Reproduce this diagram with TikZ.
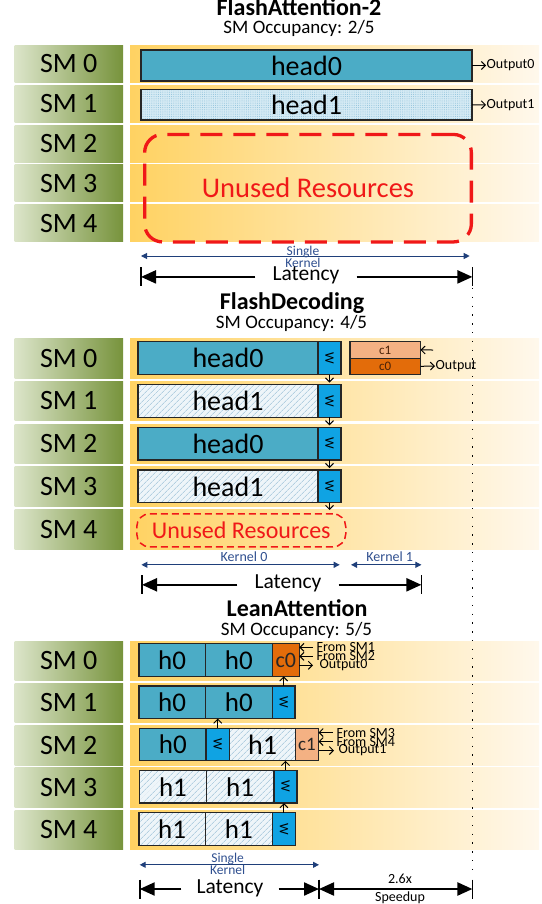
\documentclass[tikz,border=0pt]{standalone}
\usepackage{fontspec}
\setmainfont{Carlito}
\usetikzlibrary{arrows.meta,patterns.meta}
\definecolor{smL}{HTML}{DCE5CA}
\definecolor{smR}{HTML}{77933C}
\definecolor{bgL}{HTML}{FFD262}
\definecolor{bgR}{HTML}{FFF8EC}
\definecolor{tealC}{HTML}{4BACC6}
\definecolor{wC}{HTML}{0FA3E3}
\definecolor{cDark}{HTML}{E36C0A}
\definecolor{cLight}{HTML}{F4B183}
\definecolor{redC}{HTML}{F01818}
\definecolor{navy}{HTML}{1F3F7A}
\definecolor{navyT}{HTML}{2F4F8F}
\definecolor{hatchBg}{HTML}{EEF5F9}
\definecolor{hatchC}{HTML}{93BCD4}
\definecolor{dotBg}{HTML}{D5EAF4}
\definecolor{dotC}{HTML}{8CC0DA}
\definecolor{ctext}{HTML}{4A2208}
\newcommand\fsz[1]{\fontsize{#1}{#1}\selectfont}
\newcommand\bx[7]{\node[#6,anchor=north west,minimum width={(#4)-(#2)},minimum height={(#5)-(#3)}] (#1) at (#2,#3) {#7};}
\newcommand\smrow[4]{\path[rowbg] (130,#3) rectangle ++(409,#4);\node[smlab,anchor=north west,minimum height=#4] (#1) at (14.5,#3) {#2};}
\newcommand\Wt{\rotatebox{-90}{W}}
\tikzset{
 smlab/.style={rectangle,inner sep=0pt,outer sep=0pt,left color=smL,right color=smR,minimum width=108.5,font=\fsz{28}},
 rowbg/.style={left color=bgL,right color=bgR},
 blk/.style={draw=black!85,line width=1.3pt,inner sep=0pt,outer sep=0pt},
 tealbox/.style={blk,fill=tealC,font=\fsz{28}},
 hatchbox/.style={blk,preaction={fill=hatchBg},pattern={Lines[angle=45,distance=4pt,line width=0.6pt]},pattern color=hatchC,font=\fsz{28}},
 dotbox/.style={blk,preaction={fill=dotBg},pattern={Dots[distance=2.2pt,radius=0.5pt]},pattern color=dotC,font=\fsz{28}},
 wbox/.style={blk,fill=wC,font=\fsz{13}},
 cdark/.style={blk,fill=cDark,text=ctext},
 clight/.style={blk,fill=cLight,text=ctext},
 titlef/.style={font=\bfseries\fsz{24},inner sep=0pt},
 subf/.style={font=\fsz{19},inner sep=0pt},
 smalltxt/.style={font=\fsz{14},inner sep=0.5pt},
 navytxt/.style={font=\fsz{13.5},text=navyT,inner sep=0pt,align=center},
 oarr/.style={line width=1pt,-{Straight Barb[length=4pt,width=8pt]}},
 latarr/.style={line width=2.2pt,-{Triangle[length=15pt,width=13pt]}},
 latbar/.style={line width=1.8pt},
 navyarr/.style={draw=navy,line width=1pt,{Triangle[length=6pt,width=6pt]}-{Triangle[length=6pt,width=6pt]}},
 lattxt/.style={font=\fsz{21.5},inner sep=0pt},
 dotline/.style={line width=1.3pt,dash pattern=on 1.3pt off 7.5pt},
}
\begin{document}
\begin{tikzpicture}[x=1pt,y=-1pt]
\useasboundingbox (0,0) rectangle (541,904);

%% ================= FlashAttention-2 =================
\node[titlef,anchor=base] (t1) at (299,15.5) {FlashAttention-2};
\node[subf,anchor=base] (s1) at (299,33.5) {SM Occupancy: 2/5};
\smrow{a0}{SM 0}{45.5}{37}
\smrow{a1}{SM 1}{85.3}{37}
\smrow{a2}{SM 2}{125.1}{37}
\smrow{a3}{SM 3}{164.9}{37}
\smrow{a4}{SM 4}{204.7}{37}
\bx{fa0}{141}{50}{472}{81}{tealbox}{head0}
\bx{fa1}{141}{89.5}{472}{120}{dotbox}{head1}
\node[smalltxt,anchor=west] (o0) at (486,65.5) {Output0};
\node[smalltxt,anchor=west] (o1) at (486,104.8) {Output1};
\draw[oarr] (fa0.east) -- (o0.west);
\draw[oarr] (fa1.east) -- (o1.west);
\node[draw=redC,line width=3.3pt,dash pattern=on 22pt off 11pt,rounded corners=18pt,
      anchor=north west,minimum width=326.7,minimum height=107.5,inner sep=0pt,
      text=redC,font=\fsz{28.5}] (un1) at (143,132.8) {Unused Resources};
% single kernel
\coordinate (k1a) at (141,256);
\coordinate (k1b) at (469.7,256);
\draw[navyarr] (k1a) -- (k1b);
\node[navytxt] (k1t) at (303,256.5) {Single\\[-1.6pt]Kernel};
% latency
\node[lattxt,inner xsep=17pt] (l1) at (306,275.5) {Latency};
\coordinate (l1a) at (141,276.9);
\coordinate (l1b) at (472.4,276.9);
\draw[latarr] (l1.west|-l1a) -- (l1a);
\draw[latarr] (l1.east|-l1b) -- (l1b);
\draw[latbar] (l1a) ++(0,-9.5) -- ++(0,19);
\draw[latbar] (l1b) ++(0,-9.5) -- ++(0,19);

%% ================= FlashDecoding =================
\node[titlef,anchor=base] (t2) at (292,309.5) {FlashDecoding};
\node[subf,anchor=base] (s2) at (291.5,328.5) {SM Occupancy: 4/5};
\smrow{b0}{SM 0}{338.5}{39.5}
\smrow{b1}{SM 1}{381.25}{39.5}
\smrow{b2}{SM 2}{424}{39.5}
\smrow{b3}{SM 3}{466.75}{39.5}
\smrow{b4}{SM 4}{509.5}{39.5}
\bx{fh0}{138}{341.8}{318}{374.5}{tealbox}{head0}
\bx{fw0}{318}{341.8}{341}{374.5}{wbox}{\Wt}
\bx{fh1}{138}{384.55}{318}{417.25}{hatchbox}{head1}
\bx{fw1}{318}{384.55}{341}{417.25}{wbox}{\Wt}
\bx{fh2}{138}{427.3}{318}{460}{tealbox}{head0}
\bx{fw2}{318}{427.3}{341}{460}{wbox}{\Wt}
\bx{fh3}{138}{470.05}{318}{502.75}{hatchbox}{head1}
\bx{fw3}{318}{470.05}{341}{502.75}{wbox}{\Wt}
\bx{fc1}{350}{341.8}{420.5}{358.15}{clight,font=\fsz{13}}{c1}
\bx{fc0}{350}{358.15}{420.5}{374.5}{cdark,font=\fsz{13}}{c0}
\node[draw=redC,line width=1.5pt,dash pattern=on 7pt off 4pt,rounded corners=13pt,
      anchor=north west,minimum width=209,minimum height=33.2,inner sep=0pt,
      text=redC,font=\fsz{24}] (un2) at (136,513) {Unused Resources};
\draw[oarr,shorten >=2pt] (fw0.south) -- (fw0.south|-fw1.north);
\draw[oarr,shorten >=2pt] (fw1.south) -- (fw1.south|-fw2.north);
\draw[oarr,shorten >=2pt] (fw2.south) -- (fw2.south|-fw3.north);
\draw[oarr,shorten >=3pt] (fw3.south) -- (fw3.south|-un2.north);
\coordinate (fc1t) at (433,350);
\draw[oarr] (fc1t) -- (fc1.east);
\node[smalltxt,anchor=west] (fout) at (435,366) {Output};
\draw[oarr] (fc0.east) -- (fout.west);
% kernels
\coordinate (k2a) at (141.4,564.8);
\coordinate (k2b) at (339.7,564.8);
\coordinate (k3a) at (351,564.8);
\coordinate (k3b) at (421.4,564.8);
\draw[navyarr] (k2a) -- (k2b);
\draw[navyarr] (k3a) -- (k3b);
\node[navytxt,font=\fsz{14}] (k2t) at (244,557) {Kernel 0};
\node[navytxt,font=\fsz{14}] (k3t) at (389.7,557) {Kernel 1};
\node[lattxt,inner xsep=17pt] (l2) at (288,583.5) {Latency};
\coordinate (l2a) at (142,584.8);
\coordinate (l2b) at (421.4,584.8);
\draw[latarr] (l2.west|-l2a) -- (l2a);
\draw[latarr] (l2.east|-l2b) -- (l2b);
\draw[latbar] (l2a) ++(0,-9.5) -- ++(0,19);
\draw[latbar] (l2b) ++(0,-9.5) -- ++(0,19);

%% ================= LeanAttention =================
\node[titlef,anchor=base] (t3) at (297,616) {LeanAttention};
\node[subf,anchor=base] (s3) at (296.5,635.5) {SM Occupancy: 5/5};
\smrow{c0r}{SM 0}{641}{39.5}
\smrow{c1r}{SM 1}{683.25}{39.5}
\smrow{c2r}{SM 2}{725.5}{39.5}
\smrow{c3r}{SM 3}{767.75}{39.5}
\smrow{c4r}{SM 4}{810}{39.5}
% SM0
\bx{la00}{139}{643.7}{205.2}{676.3}{tealbox,font=\fsz{27}}{h0}
\bx{la01}{205.2}{643.7}{272.4}{676.3}{tealbox,font=\fsz{27}}{h0}
\bx{lc0}{272.4}{643.7}{299.3}{676.3}{cdark,font=\fsz{22},text=black!85}{c0}
% SM1
\bx{la10}{139}{685.95}{205.2}{718.55}{tealbox,font=\fsz{27}}{h0}
\bx{la11}{205.2}{685.95}{272.4}{718.55}{tealbox,font=\fsz{27}}{h0}
\bx{lw1}{272.4}{685.95}{295}{718.55}{wbox}{\Wt}
% SM2
\bx{la20}{139.7}{728.2}{206}{760.8}{tealbox,font=\fsz{27}}{h0}
\bx{lw2}{206}{728.2}{229.5}{760.8}{wbox}{\Wt}
\bx{la21}{229.5}{728.2}{295.5}{760.8}{hatchbox,font=\fsz{28}}{h1}
\bx{lc1}{295.5}{728.2}{318.5}{760.8}{clight,font=\fsz{19},text=black!85}{c1}
% SM3
\bx{la30}{139.7}{770.45}{206.2}{803.05}{hatchbox,font=\fsz{27}}{h1}
\bx{la31}{206.2}{770.45}{274}{803.05}{hatchbox,font=\fsz{27}}{h1}
\bx{lw3}{274}{770.45}{297}{803.05}{wbox}{\Wt}
% SM4
\bx{la40}{139}{812.7}{205.2}{845.3}{hatchbox,font=\fsz{27}}{h1}
\bx{la41}{205.2}{812.7}{272.4}{845.3}{hatchbox,font=\fsz{27}}{h1}
\bx{lw4}{272.4}{812.7}{295.5}{845.3}{wbox}{\Wt}
% up arrows
\draw[oarr] (lw1.north) -- (lw1.north|-lc0.south);
\draw[oarr] (lw2.north) -- (lw2.north|-la11.south);
\draw[oarr] (lw3.north) -- (lw3.north|-la21.south);
\draw[oarr] (lw4.north) -- (lw4.north|-lw3.south);
% c0 arrows
\node[smalltxt,anchor=west] (f1) at (316,647.3) {From SM1};
\node[smalltxt,anchor=west] (f2) at (316,656.3) {From SM2};
\node[smalltxt,anchor=west] (f3) at (319,665.3) {Output0};
\draw[oarr,shorten <=3pt] (f1.west) -- (f1.west-|lc0.east);
\draw[oarr,shorten <=3pt] (f2.west) -- (f2.west-|lc0.east);
\draw[oarr,shorten >=6pt] (f3.west-|lc0.east) -- (f3.west);
% c1 arrows
\node[smalltxt,anchor=west] (g1) at (336,732.5) {From SM3};
\node[smalltxt,anchor=west] (g2) at (336,741.5) {From SM4};
\node[smalltxt,anchor=west] (g3) at (338,750.5) {Output1};
\draw[oarr,shorten <=3pt] (g1.west) -- (g1.west-|lc1.east);
\draw[oarr,shorten <=3pt] (g2.west) -- (g2.west-|lc1.east);
\draw[oarr,shorten >=4pt] (g3.west-|lc1.east) -- (g3.west);
% single kernel
\coordinate (k4a) at (139.7,864.8);
\coordinate (k4b) at (319,864.8);
\draw[navyarr] (k4a) -- (k4b);
\node[navytxt] (k4t) at (227.6,864) {Single\\[-1.6pt]Kernel};
% latency + speedup
\node[lattxt,inner xsep=15pt] (l3) at (230,888) {Latency};
\coordinate (l3a) at (139.7,889);
\coordinate (l3b) at (319,889);
\coordinate (sp) at (472.4,889);
\draw[latarr] (l3.west|-l3a) -- (l3a);
\draw[latarr] (l3.east|-l3b) -- (l3b);
\draw[line width=2.2pt,{Triangle[length=15pt,width=13pt]}-{Triangle[length=15pt,width=13pt]}] (l3b) -- (sp);
\draw[latbar] (l3a) ++(0,-9.5) -- ++(0,19);
\draw[latbar] (l3b) ++(0,-9.5) -- ++(0,19);
\draw[latbar] (sp) ++(0,-9.5) -- ++(0,19);
\node[smalltxt] (sx) at (400,879) {2.6x};
\node[smalltxt] (sy) at (400,897.5) {Speedup};

% dotted guide
\coordinate (dtop) at (472.4,288);
\draw[dotline] (dtop) -- (sp|-0,874);
\end{tikzpicture}
\end{document}
